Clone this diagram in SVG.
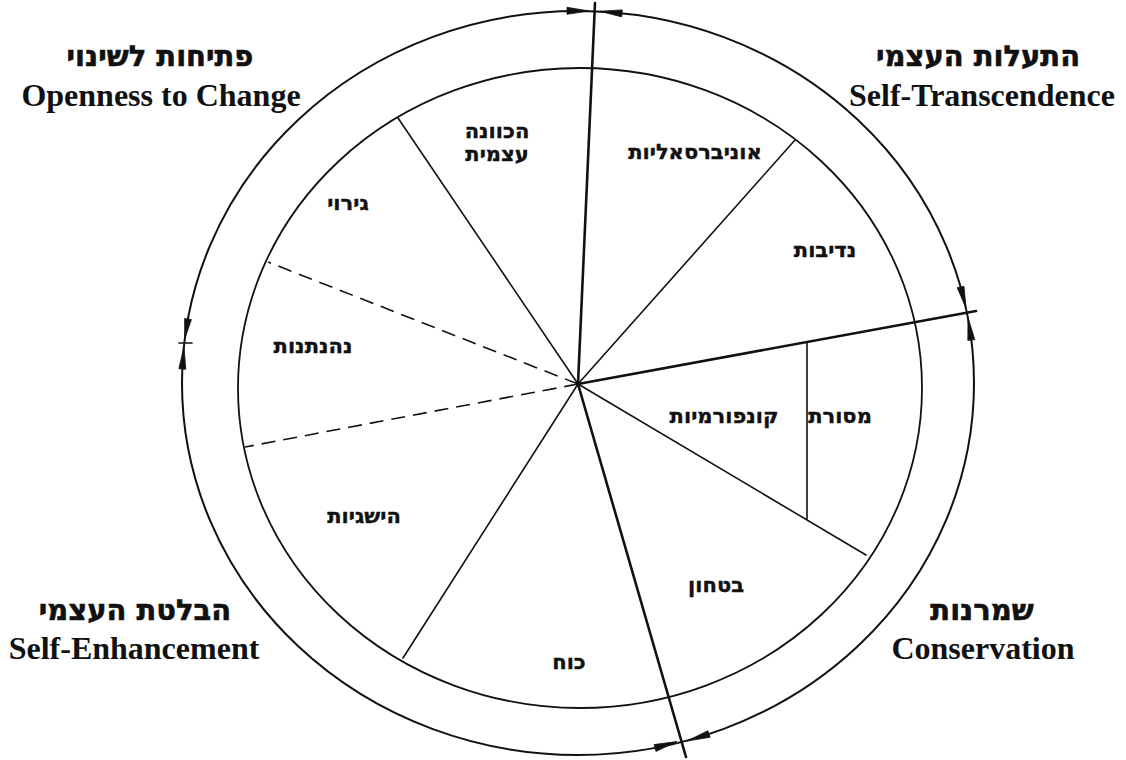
<svg xmlns="http://www.w3.org/2000/svg" width="1126" height="760" viewBox="0 0 1126 760">
<style>
.ring{fill:none;stroke:#111;}
.sp{stroke:#111;stroke-linecap:round;fill:none;}
.thick{stroke-width:2.6;}
.thin{stroke-width:1.6;}
.dash{stroke-width:1.6;stroke-dasharray:14 8;stroke-linecap:butt;}
.ah{fill:#111;stroke:#111;stroke-width:0.8;stroke-linejoin:round;}
.he{font-family:"DejaVu Sans","Liberation Sans",sans-serif;font-weight:bold;text-anchor:middle;fill:#111;stroke:#111;}
.en{font-family:"Liberation Serif","Times New Roman",serif;font-weight:bold;text-anchor:middle;fill:#111;font-size:32px;}
.sec{font-size:21px;stroke-width:0.4;}
.corner{font-size:29px;stroke-width:0.6;}
</style>
<rect width="1126" height="760" fill="#fff"/>
<g id="rings">
<ellipse class="ring" cx="578" cy="383" rx="396" ry="372" stroke-width="2"/>
<ellipse class="ring" cx="580" cy="388" rx="342" ry="320" stroke-width="1.8"/>
</g>
<g id="connectors">
<line class="sp thick" x1="578" y1="384" x2="595" y2="3"/>
<line class="sp thick" x1="578" y1="384" x2="976" y2="311"/>
<line class="sp thick" x1="578" y1="384" x2="686" y2="757"/>
<line class="sp thin" x1="578" y1="384" x2="795" y2="140"/>
<line class="sp thin" x1="578" y1="384" x2="398" y2="118"/>
<line class="sp dash" x1="578" y1="384" x2="268" y2="262"/>
<line class="sp dash" x1="578" y1="384" x2="245" y2="447"/>
<line class="sp thin" x1="578" y1="384" x2="403" y2="658"/>
<line class="sp thin" x1="578" y1="384" x2="866" y2="555"/>
<line class="sp thin" x1="807" y1="343" x2="807" y2="519"/>
<line class="sp thin" x1="179" y1="343" x2="192" y2="343"/>
<polygon class="ah" points="589,11 567,7.3 567,14.3"/>
<polygon class="ah" points="600,11.2 622.3,9.9 621.7,16.9"/>
<polygon class="ah" points="966,308 964,286.3 957.2,287.7"/>
<polygon class="ah" points="968,318 974.8,339.6 967.8,340.4"/>
<polygon class="ah" points="677,741.5 656,751.4 654,744.6"/>
<polygon class="ah" points="687,741 710.1,737.3 707.9,730.7"/>
<polygon class="ah" points="184.7,339 191.4,319.6 184.6,318.4"/>
<polygon class="ah" points="184,347 185.8,369.3 178.8,368.7"/>
</g>
<g id="sector-self-direction"><text class="he sec" x="497" y="138">הכוונה</text><text class="he sec" x="497" y="161">עצמית</text></g>
<g id="sector-universalism"><text class="he sec" x="695" y="159">אוניברסאליות</text></g>
<g id="sector-stimulation"><text class="he sec" x="348" y="210">גירוי</text></g>
<g id="sector-benevolence"><text class="he sec" x="825" y="257">נדיבות</text></g>
<g id="sector-hedonism"><text class="he sec" x="313" y="353">נהנתנות</text></g>
<g id="sector-conformity"><text class="he sec" x="724" y="423">קונפורמיות</text></g>
<g id="sector-tradition"><text class="he sec" x="840" y="423">מסורת</text></g>
<g id="sector-achievement"><text class="he sec" x="364" y="523">הישגיות</text></g>
<g id="sector-security"><text class="he sec" x="716" y="592">בטחון</text></g>
<g id="sector-power"><text class="he sec" x="569" y="669">כוח</text></g>
<g id="label-openness"><text class="he corner" x="160" y="66">פתיחות לשינוי</text><text class="en" x="161" y="106">Openness to Change</text></g>
<g id="label-transcendence"><text class="he corner" x="978" y="66">התעלות העצמי</text><text class="en" x="982" y="106">Self-Transcendence</text></g>
<g id="label-enhancement"><text class="he corner" x="135" y="620">הבלטת העצמי</text><text class="en" x="134" y="659">Self-Enhancement</text></g>
<g id="label-conservation"><text class="he corner" x="982" y="620">שמרנות</text><text class="en" x="983" y="659">Conservation</text></g>
</svg>
